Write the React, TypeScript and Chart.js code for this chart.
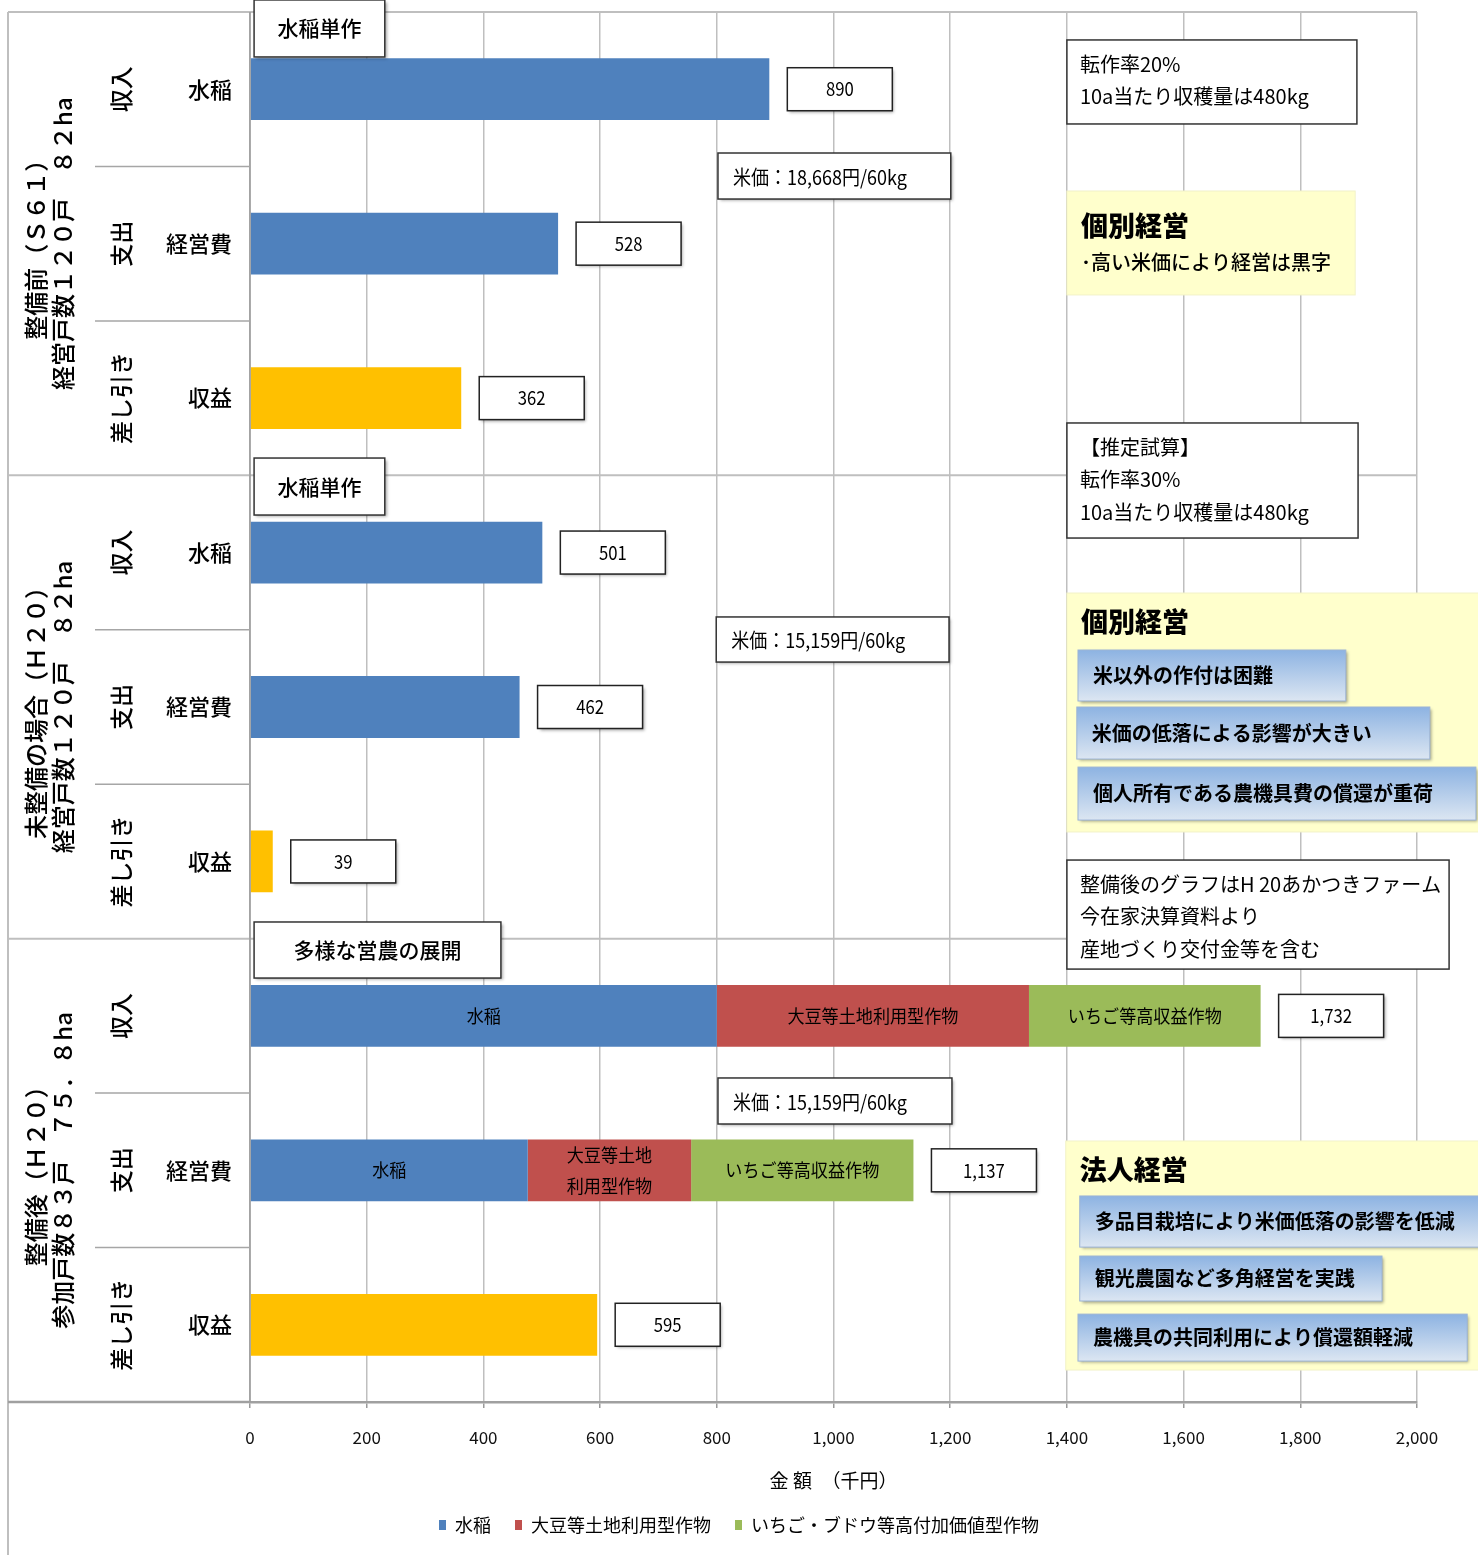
import { useEffect, useRef } from "react";
import { Chart, registerables } from "chart.js";

Chart.register(...registerables);

const FONT = "'Noto Sans CJK JP', 'Noto Sans', sans-serif";

// ---------- data ----------
const categories = ["水稲", "経営費", "収益", "水稲", "経営費", "収益", "", "経営費", "収益"];
const subCategories = ["収入", "支出", "差し引き", "収入", "支出", "差し引き", "収入", "支出", "差し引き"];
const groupTitles = ["整備前（Ｓ６１）", "未整備の場合（Ｈ２０）", "整備後（Ｈ２０）"];
const groupSubtitles = ["経営戸数１２０戸　８２ha", "経営戸数１２０戸　８２ha", "参加戸数８３戸　７５．８ha"];
const groupSizes = [3, 3, 3];

const seriesNames = ["水稲", "大豆等土地利用型作物", "いちご・ブドウ等高付加価値型作物", "収益"];
const riceValues = [890, 528, null, 501, 462, null, 800, 476, null];
const soyValues = [null, null, null, null, null, null, 535, 280, null];
const highValues = [null, null, null, null, null, null, 397, 381, null];
const profitValues = [null, null, 362, null, null, 39, null, null, 595];

const riceBarLabels = ["", "", "", "", "", "", "水稲", "水稲", ""];
const soyBarLabels = ["", "", "", "", "", "", "大豆等土地利用型作物", "大豆等土地\n利用型作物", ""];
const highBarLabels = ["", "", "", "", "", "", "いちご等高収益作物", "いちご等高収益作物", ""];
const profitBarLabels = ["", "", "", "", "", "", "", "", ""];

const xMin = 0;
const xMax = 2000;
const xStep = 200;
const axisTitle = "金 額　（千円）";

const COLORS = ["#4F81BD", "#C0504D", "#9BBB59", "#FFC000"];

// ---------- annotation layout (x in 千円, y in category units) ----------
const tags = [
  { text: "水稲単作", x: [7, 231], y: [-0.578, -0.209] },
  { text: "水稲単作", x: [7, 231], y: [2.388, 2.757] },
  { text: "多様な営農の展開", x: [7, 430], y: [5.392, 5.755] },
];
const priceNotes = [
  { text: "米価：18,668円/60kg", x: [802, 1201], y: [0.413, 0.711] },
  { text: "米価：15,159円/60kg", x: [799, 1198], y: [3.417, 3.709] },
  { text: "米価：15,159円/60kg", x: [802, 1203], y: [6.402, 6.7] },
];
const memos = [
  { lines: ["転作率20%", "10a当たり収穫量は480kg"], x: [1400, 1897], y: [-0.319, 0.225] },
  { lines: ["【推定試算】", "転作率30%", "10a当たり収穫量は480kg"], x: [1400, 1899], y: [2.161, 2.906] },
  {
    lines: ["整備後のグラフはH 20あかつきファーム", "今在家決算資料より", "産地づくり交付金等を含む"],
    x: [1400, 2055],
    y: [4.991, 5.697],
  },
];
const panels = [
  { title: "個別経営", sub: "･高い米価により経営は黒字", x: [1400, 1894], y: [0.659, 1.332], items: [] as any[] },
  {
    title: "個別経営",
    sub: "",
    x: [1400, 2115],
    y: [3.262, 4.809],
    items: [
      { text: "米以外の作付は困難", x: [1419, 1878], y: [3.631, 3.961] },
      { text: "米価の低落による影響が大きい", x: [1417, 2022], y: [4.0, 4.337] },
      { text: "個人所有である農機具費の償還が重荷", x: [1419, 2101], y: [4.389, 4.732] },
    ],
  },
  {
    title: "法人経営",
    sub: "",
    x: [1398, 2115],
    y: [6.81, 8.293],
    items: [
      { text: "多品目栽培により米価低落の影響を低減", x: [1422, 2115], y: [7.166, 7.497] },
      { text: "観光農園など多角経営を実践", x: [1422, 1940], y: [7.555, 7.846] },
      { text: "農機具の共同利用により償還額軽減", x: [1419, 2086], y: [7.931, 8.235] },
    ],
  },
];

// ---------- helpers ----------
function txt(
  ctx: CanvasRenderingContext2D,
  s: string,
  x: number,
  y: number,
  font: string,
  align: CanvasTextAlign = "left",
  sx = 1,
  color = "#000",
  rot = 0
) {
  ctx.save();
  ctx.font = font;
  ctx.fillStyle = color;
  ctx.textAlign = align;
  ctx.textBaseline = "middle";
  ctx.translate(x, y);
  if (rot) ctx.rotate(rot);
  ctx.scale(sx, 1);
  ctx.fillText(s, 0, 0);
  ctx.restore();
}

function rect(
  ctx: CanvasRenderingContext2D,
  x0: number,
  y0: number,
  x1: number,
  y1: number,
  fill: string | CanvasGradient,
  stroke: string | null,
  lw: number,
  shadow: boolean
) {
  ctx.save();
  if (shadow) {
    ctx.shadowColor = "rgba(0,0,0,0.35)";
    ctx.shadowOffsetX = 2;
    ctx.shadowOffsetY = 2;
    ctx.shadowBlur = 3;
  }
  ctx.fillStyle = fill;
  ctx.fillRect(x0, y0, x1 - x0, y1 - y0);
  ctx.restore();
  if (stroke) {
    ctx.save();
    ctx.strokeStyle = stroke;
    ctx.lineWidth = lw;
    ctx.strokeRect(x0, y0, x1 - x0, y1 - y0);
    ctx.restore();
  }
}

function hline(ctx: CanvasRenderingContext2D, x0: number, x1: number, y: number, color: string, lw: number) {
  ctx.save();
  ctx.strokeStyle = color;
  ctx.lineWidth = lw;
  ctx.beginPath();
  ctx.moveTo(x0, y);
  ctx.lineTo(x1, y);
  ctx.stroke();
  ctx.restore();
}
function vline(ctx: CanvasRenderingContext2D, x: number, y0: number, y1: number, color: string, lw: number) {
  ctx.save();
  ctx.strokeStyle = color;
  ctx.lineWidth = lw;
  ctx.beginPath();
  ctx.moveTo(x, y0);
  ctx.lineTo(x, y1);
  ctx.stroke();
  ctx.restore();
}

const GRID = "#BFBFBF";
const FRAME_LEFT = 8;

const decorPlugin = {
  id: "decor",
  beforeDatasetsDraw(chart: any) {
    const { ctx, chartArea, scales } = chart;
    const y = scales.y;
    const step = y.getPixelForValue(1) - y.getPixelForValue(0);
    hline(ctx, FRAME_LEFT, chartArea.right, chartArea.top, GRID, 2);
    let idx = 0;
    groupSizes.forEach((n, g) => {
      idx += n;
      if (g < groupSizes.length - 1) {
        const yy = y.getPixelForValue(idx - 1) + step / 2;
        hline(ctx, FRAME_LEFT, chartArea.right, yy, GRID, 2);
      }
    });
  },
  afterDatasetsDraw(chart: any) {
    const { ctx } = chart;
    const labelSets = [riceBarLabels, soyBarLabels, highBarLabels, profitBarLabels];
    labelSets.forEach((labels, d) => {
      const meta = chart.getDatasetMeta(d);
      labels.forEach((lab, i) => {
        if (!lab) return;
        const el = meta.data[i];
        if (!el) return;
        const p = el.getProps(["x", "base", "y"], true);
        const cx = (p.x + p.base) / 2;
        const lines = lab.split("\n");
        const lh = 31;
        lines.forEach((ln, k) => {
          txt(ctx, ln, cx, p.y + (k - (lines.length - 1) / 2) * lh, `18px ${FONT}`, "center", 0.95);
        });
      });
    });
  },
  afterDraw(chart: any) {
    const { ctx, chartArea, scales } = chart;
    const x = scales.x;
    const y = scales.y;
    const step = y.getPixelForValue(1) - y.getPixelForValue(0);
    const X = (v: number) => x.getPixelForValue(v);
    const Y = (c: number) => y.getPixelForValue(0) + c * step;

    vline(ctx, FRAME_LEFT, chartArea.top, chart.height, "#BFBFBF", 2);
    vline(ctx, chartArea.left, chartArea.top, chartArea.bottom, "#9A9A9A", 1.5);
    hline(ctx, FRAME_LEFT, chartArea.left, chartArea.bottom, "#A0A0A0", 2.5);

    let start = 0;
    groupSizes.forEach((n, g) => {
      for (let k = 1; k < n; k++) {
        const yy = Y(start + k - 0.5);
        hline(ctx, 95, chartArea.left, yy, "#A6A6A6", 1.5);
      }
      const gc = (Y(start - 0.5) + Y(start + n - 0.5)) / 2;
      txt(ctx, groupTitles[g], 36, gc, `500 24px ${FONT}`, "center", 1, "#000", -Math.PI / 2);
      txt(ctx, groupSubtitles[g], 63, gc, `500 24px ${FONT}`, "center", 1, "#000", -Math.PI / 2);
      start += n;
    });

    categories.forEach((c, i) => {
      const yc = y.getPixelForValue(i);
      if (c) txt(ctx, c, 232, yc, `500 22px ${FONT}`, "right");
      txt(ctx, subCategories[i], 121, yc, `500 23px ${FONT}`, "center", 1, "#000", -Math.PI / 2);
    });

    const all = [riceValues, soyValues, highValues, profitValues];
    categories.forEach((_, i) => {
      const total = all.reduce((s, arr) => s + (arr[i] ?? 0), 0);
      if (!total) return;
      const xe = X(total);
      const yc = y.getPixelForValue(i);
      const x0 = xe + 18;
      rect(ctx, x0, yc - 21.5, x0 + 105, yc + 21.5, "#fff", "#222", 1.5, true);
      txt(ctx, total.toLocaleString("en-US"), x0 + 52.5, yc, `19px ${FONT}`, "center", 0.88);
    });

    tags.forEach((t) => {
      const x0 = X(t.x[0]), x1 = X(t.x[1]), y0 = Y(t.y[0]), y1 = Y(t.y[1]);
      rect(ctx, x0, y0, x1, y1, "#fff", "#333", 1.5, true);
      txt(ctx, t.text, (x0 + x1) / 2, (y0 + y1) / 2, `500 21px ${FONT}`, "center");
    });

    priceNotes.forEach((t) => {
      const x0 = X(t.x[0]), x1 = X(t.x[1]), y0 = Y(t.y[0]), y1 = Y(t.y[1]);
      rect(ctx, x0, y0, x1, y1, "#fff", "#333", 1.5, true);
      txt(ctx, t.text, x0 + 15, (y0 + y1) / 2 + 1, `20px ${FONT}`, "left", 0.9);
    });

    memos.forEach((m) => {
      const x0 = X(m.x[0]), x1 = X(m.x[1]), y0 = Y(m.y[0]), y1 = Y(m.y[1]);
      rect(ctx, x0, y0, x1, y1, "#fff", "#333", 1.5, false);
      m.lines.forEach((ln, k) => {
        txt(ctx, ln, x0 + 13, y0 + 24 + k * 32.5, `20px ${FONT}`, "left");
      });
    });

    panels.forEach((p) => {
      const x0 = X(p.x[0]), x1 = X(p.x[1]), y0 = Y(p.y[0]), y1 = Y(p.y[1]);
      rect(ctx, x0, y0, x1, y1, "#FFFFCC", "#F2F2C8", 1, false);
      txt(ctx, p.title, x0 + 14, y0 + (p.sub ? 35 : 29), `900 27px ${FONT}`, "left");
      if (p.sub) txt(ctx, p.sub, x0 + 14, y0 + 71, `500 20px ${FONT}`, "left");
      p.items.forEach((it: any) => {
        const a0 = X(it.x[0]), a1 = X(it.x[1]), b0 = Y(it.y[0]), b1 = Y(it.y[1]);
        const g = ctx.createLinearGradient(0, b0, 0, b1);
        g.addColorStop(0, "#8DB3E2");
        g.addColorStop(1, "#DCE6F2");
        rect(ctx, a0, b0, a1, b1, g, "#9CB4D6", 1, true);
        txt(ctx, it.text, a0 + 15, (b0 + b1) / 2, `bold 20px ${FONT}`, "left");
      });
    });
  },
};

export default function App() {
  const ref = useRef<HTMLCanvasElement | null>(null);

  useEffect(() => {
    if (!ref.current) return;
    Chart.defaults.font.family = FONT;
    const valueSets = [riceValues, soyValues, highValues, profitValues];
    const chart = new Chart(ref.current, {
      type: "bar",
      data: {
        labels: categories,
        datasets: valueSets.map((vals, d) => ({
          label: seriesNames[d],
          data: vals,
          backgroundColor: COLORS[d],
          borderWidth: 0,
          categoryPercentage: 1,
          barPercentage: 0.4,
        })),
      },
      options: {
        indexAxis: "y",
        responsive: true,
        maintainAspectRatio: false,
        animation: false,
        layout: { padding: { top: 12, right: 0, bottom: 11, left: 0 } },
        scales: {
          x: {
            type: "linear",
            stacked: true,
            min: xMin,
            max: xMax,
            ticks: {
              stepSize: xStep,
              padding: 19,
              color: "#111",
              font: { size: 17, family: FONT },
              callback: (v: any) => Number(v).toLocaleString("en-US"),
            },
            grid: { color: GRID, lineWidth: 1.5, tickLength: 6, tickColor: "#9A9A9A" },
            border: { color: "#A0A0A0", width: 2.5 },
            title: {
              display: true,
              text: axisTitle,
              color: "#000",
              font: { size: 19, family: FONT },
              padding: { top: 4, bottom: 0 },
            },
            afterFit: (s: any) => {
              s.height = 90;
            },
          },
          y: {
            type: "category",
            stacked: true,
            ticks: { display: false },
            grid: { display: false },
            border: { display: false },
            afterFit: (s: any) => {
              s.width = 250;
            },
          },
          yRight: {
            type: "category",
            position: "right",
            labels: categories,
            ticks: { display: false },
            grid: { display: false },
            border: { display: false },
            afterFit: (s: any) => {
              s.width = 61;
            },
          },
        },
        plugins: {
          legend: {
            position: "bottom",
            labels: {
              boxWidth: 7,
              boxHeight: 10,
              padding: 24,
              color: "#000",
              font: { size: 18, family: FONT },
              filter: (item: any) => item.text !== "収益",
            },
          },
          tooltip: { enabled: false },
        },
      },
      plugins: [decorPlugin],
    } as any);
    return () => chart.destroy();
  }, []);

  return (
    <div style={{ position: "absolute", left: 0, top: 0, width: 1478, height: 1555, background: "#fff" }}>
      <canvas ref={ref} />
    </div>
  );
}
